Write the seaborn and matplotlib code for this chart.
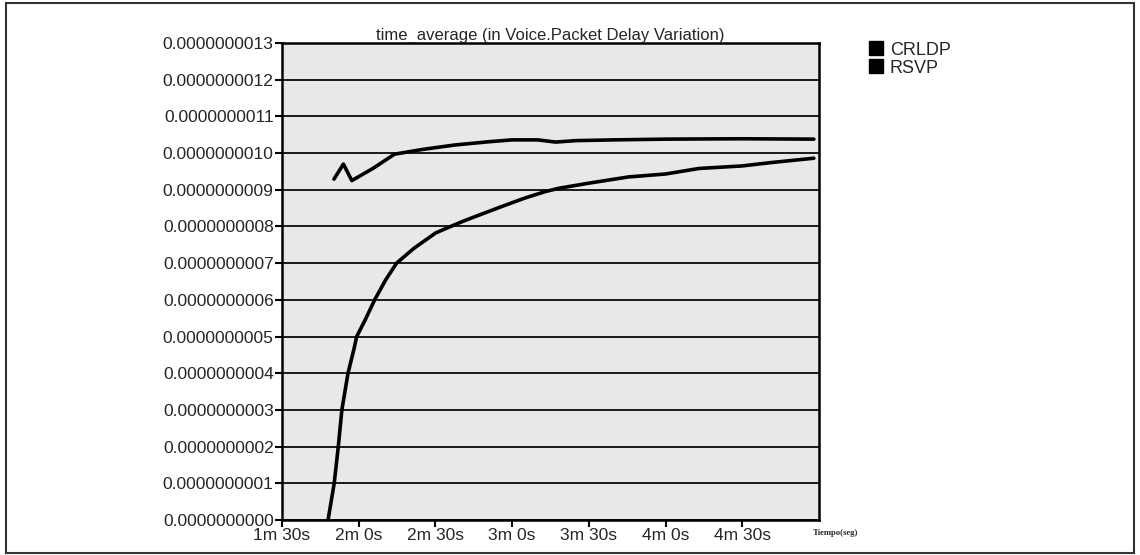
import numpy as np
import pandas as pd
import matplotlib
matplotlib.use("Agg")
import matplotlib.pyplot as plt
import seaborn as sns
from matplotlib.lines import Line2D
from matplotlib.patches import Rectangle
from matplotlib.ticker import FuncFormatter

# data (time in seconds, value in units of 1e-10)
crldp_t = [110.3, 114.0, 117.3, 125.5, 134.0, 145.0, 157.5, 171.0, 180.0, 190.0,
           197.0, 205.0, 220.0, 240.0, 270.0, 298.0]
crldp_v = [9.29, 9.70, 9.25, 9.58, 9.97, 10.10, 10.22, 10.31, 10.36, 10.36,
           10.30, 10.34, 10.36, 10.38, 10.39, 10.38]

rsvp_t = [108.0, 110.4, 112.0, 113.4, 115.8, 118.2, 119.2, 122.5, 126.3, 130.5,
          134.8, 141.5, 150.0, 154.9, 161.1, 164.8, 175.8, 184.8, 192.9, 198.2,
          210.0, 225.5, 240.0, 253.0, 270.0, 281.1, 298.0]
rsvp_v = [0.0, 1.0, 2.0, 3.0, 4.0, 4.68, 5.0, 5.45, 6.01, 6.54,
          7.0, 7.40, 7.82, 7.97, 8.15, 8.25, 8.54, 8.77, 8.95, 9.04,
          9.18, 9.35, 9.43, 9.58, 9.65, 9.74, 9.86]

series_names = ["CRLDP", "RSVP"]
x_ticks = [90, 120, 150, 180, 210, 240, 270]
y_ticks = np.arange(0, 14) * 1e-10

df = pd.concat([
    pd.DataFrame({"t": crldp_t, "v": np.array(crldp_v) * 1e-10, "serie": "CRLDP"}),
    pd.DataFrame({"t": rsvp_t, "v": np.array(rsvp_v) * 1e-10, "serie": "RSVP"}),
])

sns.set_style("ticks")
plt.rcParams["font.family"] = ["Liberation Sans", "DejaVu Sans"]

fig = plt.figure(figsize=(11.4, 5.55), dpi=100)
ax = fig.add_axes([0.2474, 0.0631, 0.4710, 0.8594])
ax.set_facecolor("#e8e8e8")

sns.lineplot(data=df, x="t", y="v", hue="serie", palette=["black", "black"],
             sort=False, legend=False, lw=2.6, ax=ax)

ax.set_xlim(90, 300)
ax.set_ylim(0, 13e-10)
ax.set_xticks(x_ticks)
ax.set_yticks(y_ticks)
ax.xaxis.set_major_formatter(FuncFormatter(lambda s, p: f"{int(s)//60}m {int(s)%60}s"))
ax.yaxis.set_major_formatter(FuncFormatter(lambda v, p: f"{v:.10f}"))
ax.tick_params(axis="both", labelsize=12.5, length=5, width=1.5, color="black",
               direction="out", pad=1)
ax.yaxis.grid(True, color="#1a1a1a", lw=1.4)
ax.set_axisbelow(True)
for sp in ax.spines.values():
    sp.set_color("black")
    sp.set_linewidth(1.8)
ax.set_xlabel("")
ax.set_ylabel("")
ax.set_title("time_average (in Voice.Packet Delay Variation)", fontsize=12, pad=1)

ax.text(0.988, -0.028, "Tiempo(seg)", transform=ax.transAxes, fontsize=6.2,
        family="Liberation Serif", weight="bold", ha="left", va="center")

handles = [Line2D([], [], marker="s", color="black", ls="none", markersize=10)
           for _ in series_names]
ax.legend(handles, series_names, loc="upper left", bbox_to_anchor=(1.08, 1.018),
          frameon=False, fontsize=13, handlelength=0.8, handletextpad=0.35,
          labelspacing=0.05, borderaxespad=0)

fig.add_artist(Rectangle((0.005, 0.004), 0.99, 0.991, transform=fig.transFigure,
                         fill=False, edgecolor="#333333", lw=1.5))

fig.savefig("out.png", dpi=100)
